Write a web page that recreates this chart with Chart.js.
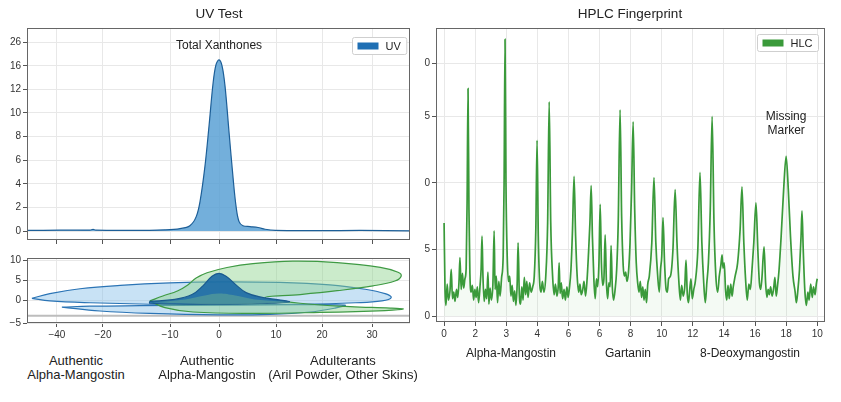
<!DOCTYPE html>
<html>
<head>
<meta charset="utf-8">
<script src="https://cdn.jsdelivr.net/npm/chart.js@4"></script>
<style>
  body { margin: 0; background: #fff; font-family: 'Liberation Sans', Arial, sans-serif; }
  #wrap { position: relative; width: 841px; height: 402px; overflow: hidden; background: #fff; }
  canvas { position: absolute; }
  .t { position: absolute; color: #222; text-align: center; white-space: nowrap; }
</style>
</head>
<body>
<div id="wrap">
  <canvas id="uvChart" width="420" height="250" style="left:0;top:0"></canvas>
  <canvas id="shapeChart" width="420" height="100" style="left:0;top:250px"></canvas>
  <canvas id="hplcChart" width="421" height="345" style="left:420px;top:0"></canvas>

  <div class="t" style="left:119px;top:6px;width:200px;font-size:13.5px;line-height:16px">UV Test</div>
  <div class="t" style="left:530px;top:6px;width:200px;font-size:13.5px;line-height:16px">HPLC Fingerprint</div>

  <div class="t" style="left:1px;top:354px;width:150px;font-size:13px;line-height:14px">Authentic<br>Alpha-Mangostin</div>
  <div class="t" style="left:132px;top:354px;width:150px;font-size:13px;line-height:14px">Authentic<br>Alpha-Mangostin</div>
  <div class="t" style="left:253px;top:354px;width:180px;font-size:13px;line-height:14px">Adulterants<br>(Aril Powder, Other Skins)</div>

  <div class="t" style="left:451px;top:346px;width:120px;font-size:12px;line-height:14px">Alpha-Mangostin</div>
  <div class="t" style="left:568px;top:346px;width:120px;font-size:12px;line-height:14px">Gartanin</div>
  <div class="t" style="left:690px;top:346px;width:120px;font-size:12px;line-height:14px">8-Deoxymangostin</div>
</div>

<script>
// UV trace (axis units, x shares the shape panel's axis)
const uvPoints = [[-36.9,0.05],[-30.6,0.07],[-24.8,0.08],[-24.2,0.14],[-23.7,0.07],[-17.1,0.05],[-10.4,0.1],[-7.5,0.2],[-5.6,0.45],[-4.4,1.2],[-3.65,2.5],[-2.7,5.5],[-1.9,9.0],[-1.15,12.5],[-0.58,14.1],[0,14.5],[0.58,14.0],[1.15,12.3],[1.9,8.5],[2.7,4.5],[3.3,2.0],[3.85,0.8],[4.6,0.45],[5.96,0.38],[7.5,0.3],[8.85,0.15],[10.8,0.05],[19.4,0.03],[27.1,0.05],[36.7,0.02]];
const uvYTicks = [0, 2, 4, 6, 8, 10, 12, 14, 16];
const uvYLabels = ['0', '2', '4', '6', '8', '10', '12', '16', '26'];

// shared x axis of the two left panels
const leftXTicks = [-31.15, -22.3, -9.42, 0, 10.96, 19.8, 29.4];
const leftXLabels = ['\u221240', '\u221220', '\u221210', '0', '10', '20', '30'];

// score-plot shapes (outlines)
const authenticWide = [[-35.96,0.55],[-32.5,1.74],[-26.7,2.93],[-19.0,3.76],[-9.42,4.36],[0,4.6],[11.7,4.48],[21.3,3.88],[28.1,2.81],[31.9,1.74],[33.1,0.79],[31.3,-0.05],[26.2,-0.52],[15.6,-0.88],[0,-1.0],[-13.3,-0.88],[-24.8,-0.52],[-32.5,-0.05],[-35.96,0.55]];
const authenticLow = [[-30.2,-1.6],[-22.9,-2.55],[-13.3,-3.14],[0,-3.5],[9.8,-3.38],[17.5,-2.79],[22.3,-1.83],[24.2,-1.12],[15.6,-1.0],[0,-1.12],[-15.2,-1.24],[-24.8,-1.36],[-30.2,-1.6]];
const adulterants = [[-13.3,-0.05],[-10.8,1.14],[-7.9,2.45],[-6.0,3.88],[-4.4,5.55],[-2.3,6.86],[1.54,8.17],[6.54,9.12],[14.2,9.71],[22.7,9.36],[31.0,8.17],[34.4,6.98],[35.0,6.02],[33.8,4.83],[29.6,3.64],[22.7,2.45],[15.6,1.5],[8.85,0.79],[15.6,-0.64],[25.2,-1.48],[32.9,-1.83],[35.4,-2.07],[31.9,-2.43],[19.4,-2.9],[6.54,-3.14],[-5.0,-2.79],[-10.4,-1.71],[-13.3,-0.05]];
const xanthonePeak = [[-13.3,-0.17],[-8.5,0.31],[-5.2,1.5],[-3.1,3.64],[-1.35,6.0],[0,6.74],[1.35,6.0],[3.27,3.88],[5.2,1.98],[8.27,0.79],[11.5,0.2],[13.5,-0.3],[8.0,-0.7],[0,-0.88],[-13.3,-0.64],[-13.3,-0.17]];
const overlapPeak = [[-12.9,-0.4],[-6.5,0.31],[-2.7,1.26],[0,1.74],[3.1,1.26],[6.9,0.31],[13.7,-0.4],[0,-0.88],[-12.9,-0.4]];
const baseLine = [[-36.9,-3.74],[36.7,-3.74]];
const shapeYTicks = [-5.5, 0, 5, 10];
const shapeYLabels = ['\u22125', '0', '5', '10'];

// HPLC chromatogram
const hplcPoints = [[0,7.0],[0.03,2.0],[0.06,0.8],[0.10,2.4],[0.14,1.2],[0.19,1.9],[0.23,3.5],[0.27,1.3],[0.31,1.8],[0.35,1.1],[0.40,2.0],[0.44,1.4],[0.48,2.6],[0.51,4.4],[0.55,2.0],[0.59,3.2],[0.63,2.1],[0.67,2.8],[0.71,3.6],[0.74,8.5],[0.77,17.1],[0.80,8.0],[0.83,3.2],[0.87,1.8],[0.91,2.3],[0.95,1.2],[0.99,2.0],[1.03,1.4],[1.07,2.2],[1.11,1.0],[1.16,2.4],[1.19,3.5],[1.22,6.0],[1.25,3.0],[1.29,1.1],[1.33,2.0],[1.37,1.3],[1.41,3.3],[1.44,0.9],[1.48,2.1],[1.52,1.2],[1.57,2.4],[1.61,6.4],[1.64,2.0],[1.68,3.0],[1.72,1.0],[1.76,2.6],[1.80,1.5],[1.85,2.9],[1.90,4.5],[1.93,10.0],[1.96,20.8],[1.99,10.0],[2.03,4.5],[2.07,2.6],[2.11,3.0],[2.15,1.5],[2.19,2.3],[2.23,1.1],[2.27,1.9],[2.31,0.8],[2.35,2.4],[2.38,5.5],[2.42,1.6],[2.46,0.9],[2.50,2.2],[2.54,1.2],[2.58,2.9],[2.62,1.6],[2.66,2.6],[2.70,1.4],[2.75,2.5],[2.80,1.8],[2.85,2.2],[2.90,3.0],[2.95,6.5],[2.99,13.2],[3.03,6.0],[3.08,2.3],[3.12,1.8],[3.16,2.6],[3.21,1.8],[3.27,3.0],[3.33,7.0],[3.38,16.1],[3.43,7.0],[3.49,3.0],[3.54,1.6],[3.58,2.4],[3.63,1.5],[3.67,2.2],[3.70,4.0],[3.73,1.7],[3.77,2.5],[3.81,1.3],[3.86,2.0],[3.90,1.2],[3.95,2.2],[3.99,1.4],[4.03,2.1],[4.08,3.5],[4.13,6.5],[4.18,10.5],[4.23,6.0],[4.28,3.0],[4.33,1.8],[4.37,2.4],[4.41,1.6],[4.46,2.0],[4.50,2.6],[4.55,1.5],[4.60,2.8],[4.64,4.5],[4.69,7.0],[4.73,9.8],[4.77,6.0],[4.82,2.6],[4.86,1.3],[4.90,2.8],[4.94,2.2],[4.98,4.0],[5.02,8.4],[5.06,4.0],[5.10,2.3],[5.14,2.8],[5.18,6.1],[5.22,2.6],[5.26,1.3],[5.30,2.5],[5.34,2.2],[5.37,5.3],[5.41,2.2],[5.45,1.2],[5.50,2.0],[5.55,3.5],[5.60,7.0],[5.66,15.5],[5.71,7.5],[5.76,3.8],[5.80,3.0],[5.84,3.3],[5.88,2.6],[5.93,3.3],[5.98,5.5],[6.03,9.5],[6.08,14.6],[6.13,8.0],[6.18,4.0],[6.23,2.4],[6.27,1.8],[6.31,2.6],[6.35,1.4],[6.39,2.2],[6.43,1.2],[6.47,2.0],[6.51,1.0],[6.55,2.4],[6.60,3.0],[6.68,5.5],[6.75,10.4],[6.81,5.5],[6.87,3.0],[6.92,1.8],[6.96,3.5],[7.00,4.5],[7.04,7.4],[7.09,4.0],[7.14,2.0],[7.18,1.8],[7.22,2.8],[7.28,3.0],[7.36,5.0],[7.43,9.5],[7.49,5.5],[7.55,2.6],[7.60,1.2],[7.64,2.3],[7.69,1.5],[7.74,2.2],[7.78,4.2],[7.82,1.7],[7.86,1.0],[7.90,2.0],[7.94,2.8],[7.98,1.3],[8.03,2.0],[8.08,2.6],[8.16,5.0],[8.23,10.8],[8.29,5.5],[8.35,2.5],[8.40,1.0],[8.45,2.5],[8.50,4.0],[8.56,8.0],[8.62,15.0],[8.68,7.0],[8.74,3.0],[8.80,1.8],[8.85,3.0],[8.90,3.8],[8.94,4.6],[8.97,3.6],[9.01,4.0],[9.05,2.0],[9.09,1.2],[9.13,2.3],[9.17,1.3],[9.22,2.4],[9.26,1.5],[9.30,2.2],[9.36,3.0],[9.44,4.0],[9.52,6.5],[9.58,9.7],[9.64,5.5],[9.70,2.6],[9.75,1.2],[9.80,2.4],[9.85,2.0],[9.90,3.4],[9.96,5.5],[10.03,8.5],[10.09,5.0],[10.14,2.5],[10.18,2.0],[10.22,2.8],[10.29,5.2],[10.34,2.5],[10.38,1.4],[10.42,2.0],[10.46,1.6],[10.50,2.2],[10.55,1.5],[10.60,2.1],[10.64,2.9],[10.68,1.5],[10.72,2.2],[10.77,3.4],[10.84,6.0],[10.92,9.5],[11.00,12.0],[11.07,9.5],[11.14,6.0],[11.22,3.0],[11.29,1.8],[11.33,1.0],[11.38,2.0],[11.43,3.5],[11.48,6.0],[11.51,7.9],[11.55,5.0],[11.60,2.0],[11.65,0.8],[11.70,1.8],[11.74,1.2],[11.79,2.4],[11.84,1.4],[11.88,2.2],[11.93,1.6],[11.97,2.4],[12.00,2.8]];
const hplcXTicks = [0, 1, 2, 3, 4, 5, 6, 7, 8, 9, 10, 11, 12];
const hplcXLabels = ['0', '2', '3', '4', '6', '6', '8', '10', '12', '14', '16', '18', '10'];
const hplcYTicks = [0, 5, 10, 15, 19];
const hplcYLabels = ['0', '5', '0', '5', '0'];

const FONT = "'Liberation Sans', Arial, sans-serif";
Chart.defaults.font.family = FONT;
Chart.defaults.color = '#333';
Chart.defaults.animation = false;

const toXY = pts => pts.map(([x, y]) => ({ x, y }));

// box round the plot area
const frame = {
  id: 'frame',
  afterDraw(chart) {
    const { ctx, chartArea: a } = chart;
    ctx.save();
    ctx.strokeStyle = '#666';
    ctx.lineWidth = 1;
    ctx.strokeRect(Math.round(a.left) + 0.5, Math.round(a.top) + 0.5,
      Math.round(a.width) - 1, Math.round(a.height) - 1);
    ctx.restore();
  }
};

// legend in the top right corner of the plot, with a framed box
const cornerLegend = {
  id: 'cornerLegend',
  afterDraw(chart, args, opts) {
    const ds = chart.data.datasets[0];
    const { ctx, chartArea: a } = chart;
    ctx.save();
    ctx.font = '11px ' + FONT;
    const tw = ctx.measureText(ds.label).width;
    const w = 5 + 21 + 7 + tw + 6, h = 17;
    const x = Math.round(a.right - opts.inset - w) + 0.5;
    const y = Math.round(a.top + opts.top) + 0.5;
    ctx.fillStyle = '#fff';
    ctx.strokeStyle = '#cfcfcf';
    ctx.lineWidth = 1;
    ctx.beginPath();
    ctx.roundRect(x, y, w, h, 2);
    ctx.fill();
    ctx.stroke();
    ctx.fillStyle = opts.swatch;
    ctx.fillRect(x + 5, y + h / 2 - 3.5, 21, 7);
    ctx.fillStyle = '#222';
    ctx.textBaseline = 'middle';
    ctx.fillText(ds.label, x + 33, y + h / 2 + 0.5);
    ctx.restore();
  }
};

// text notes placed in data units
const notes = {
  id: 'notes',
  afterDatasetsDraw(chart, args, opts) {
    const ctx = chart.ctx;
    (opts.items || []).forEach(it => {
      const x = chart.scales.x.getPixelForValue(it.x);
      const y = chart.scales.y.getPixelForValue(it.y);
      ctx.save();
      ctx.font = it.size + 'px ' + FONT;
      ctx.fillStyle = '#222';
      ctx.textAlign = 'center';
      ctx.textBaseline = 'middle';
      it.lines.forEach((l, i) => ctx.fillText(l, x, y + i * (it.size + 2)));
      ctx.restore();
    });
  }
};

function fixedAxis(values, labels, extra, showLabels = true) {
  return Object.assign({
    type: 'linear',
    afterBuildTicks: s => { s.ticks = values.map(v => ({ value: v })); },
    ticks: { display: showLabels, autoSkip: false, maxRotation: 0, padding: 2, font: { size: 10 }, color: '#333',
      callback: (v, i) => labels[i] },
    grid: { color: '#e8e8e8', tickColor: '#555', tickLength: 4 },
    border: { display: false }
  }, extra);
}

// UV Test
new Chart(document.getElementById('uvChart'), {
  type: 'line',
  data: {
    datasets: [{
      label: 'UV',
      data: toXY(uvPoints),
      borderColor: '#1d5f98',
      borderWidth: 1.2,
      backgroundColor: 'rgba(80,155,210,0.8)',
      fill: 'origin',
      pointRadius: 0,
      tension: 0.35
    }]
  },
  options: {
    responsive: false,
    layout: { padding: { top: 28, right: 10, left: 0, bottom: 0 } },
    scales: {
      x: fixedAxis(leftXTicks, leftXLabels, {
        min: -36.9, max: 36.7,
        afterFit: s => { s.height = 10; }
      }, false),
      y: fixedAxis(uvYTicks, uvYLabels, {
        min: -0.76, max: 17.2,
        afterFit: s => { s.width = 27; }
      })
    },
    plugins: {
      legend: { display: false },
      tooltip: { enabled: false },
      cornerLegend: { swatch: '#1f6fb4', inset: 4, top: 9 },
      notes: { items: [{ x: 0, y: 15.7, lines: ['Total Xanthones'], size: 12 }] }
    }
  },
  plugins: [frame, cornerLegend, notes]
});

// score plot under the UV trace
const shapeSet = (pts, border, fillColor, order, width) => ({
  data: toXY(pts),
  showLine: true,
  borderColor: border,
  borderWidth: width || 1.2,
  backgroundColor: fillColor,
  fill: 'shape',
  pointRadius: 0,
  tension: 0.4,
  order
});

new Chart(document.getElementById('shapeChart'), {
  type: 'scatter',
  data: {
    datasets: [
      { data: toXY(baseLine), showLine: true, borderColor: '#bdbdbd', borderWidth: 2, pointRadius: 0, fill: false, order: 7 },
      shapeSet(authenticWide, '#2b74b5', 'rgba(125,185,232,0.42)', 6),
      shapeSet(authenticLow, '#2b74b5', 'rgba(125,185,232,0.42)', 5),
      shapeSet(adulterants, '#3f9a44', 'rgba(140,210,140,0.45)', 4),
      shapeSet(xanthonePeak, '#1a5a8f', 'rgba(25,105,165,0.9)', 3),
      shapeSet(overlapPeak, 'rgba(0,0,0,0)', 'rgba(95,165,150,0.6)', 2, 0)
    ]
  },
  options: {
    responsive: false,
    layout: { padding: { top: 6, right: 10, left: 0, bottom: 0 } },
    scales: {
      x: fixedAxis(leftXTicks, leftXLabels, {
        min: -36.9, max: 36.7,
        afterFit: s => { s.height = 27; }
      }),
      y: fixedAxis(shapeYTicks, shapeYLabels, {
        min: -5.5, max: 10.5,
        afterFit: s => { s.width = 27; }
      })
    },
    plugins: { legend: { display: false }, tooltip: { enabled: false } }
  },
  plugins: [frame]
});

// HPLC Fingerprint
new Chart(document.getElementById('hplcChart'), {
  type: 'line',
  data: {
    datasets: [{
      label: 'HLC',
      data: toXY(hplcPoints),
      borderColor: '#3a9a3a',
      borderWidth: 1.7,
      backgroundColor: 'rgba(130,200,130,0.09)',
      fill: 'origin',
      pointRadius: 0,
      cubicInterpolationMode: 'monotone'
    }]
  },
  options: {
    responsive: false,
    layout: { padding: { top: 28, right: 16, left: 0, bottom: 0 } },
    scales: {
      x: fixedAxis(hplcXTicks, hplcXLabels, {
        min: -0.26, max: 12.25,
        afterFit: s => { s.height = 23; }
      }),
      y: fixedAxis(hplcYTicks, hplcYLabels, {
        min: -0.45, max: 21.65,
        afterFit: s => { s.width = 16; }
      })
    },
    plugins: {
      legend: { display: false },
      tooltip: { enabled: false },
      cornerLegend: { swatch: '#3a9a3a', inset: 7, top: 6 },
      notes: { items: [{ x: 11.0, y: 15.0, lines: ['Missing', 'Marker'], size: 12 }] }
    }
  },
  plugins: [frame, cornerLegend, notes]
});
</script>
</body>
</html>
